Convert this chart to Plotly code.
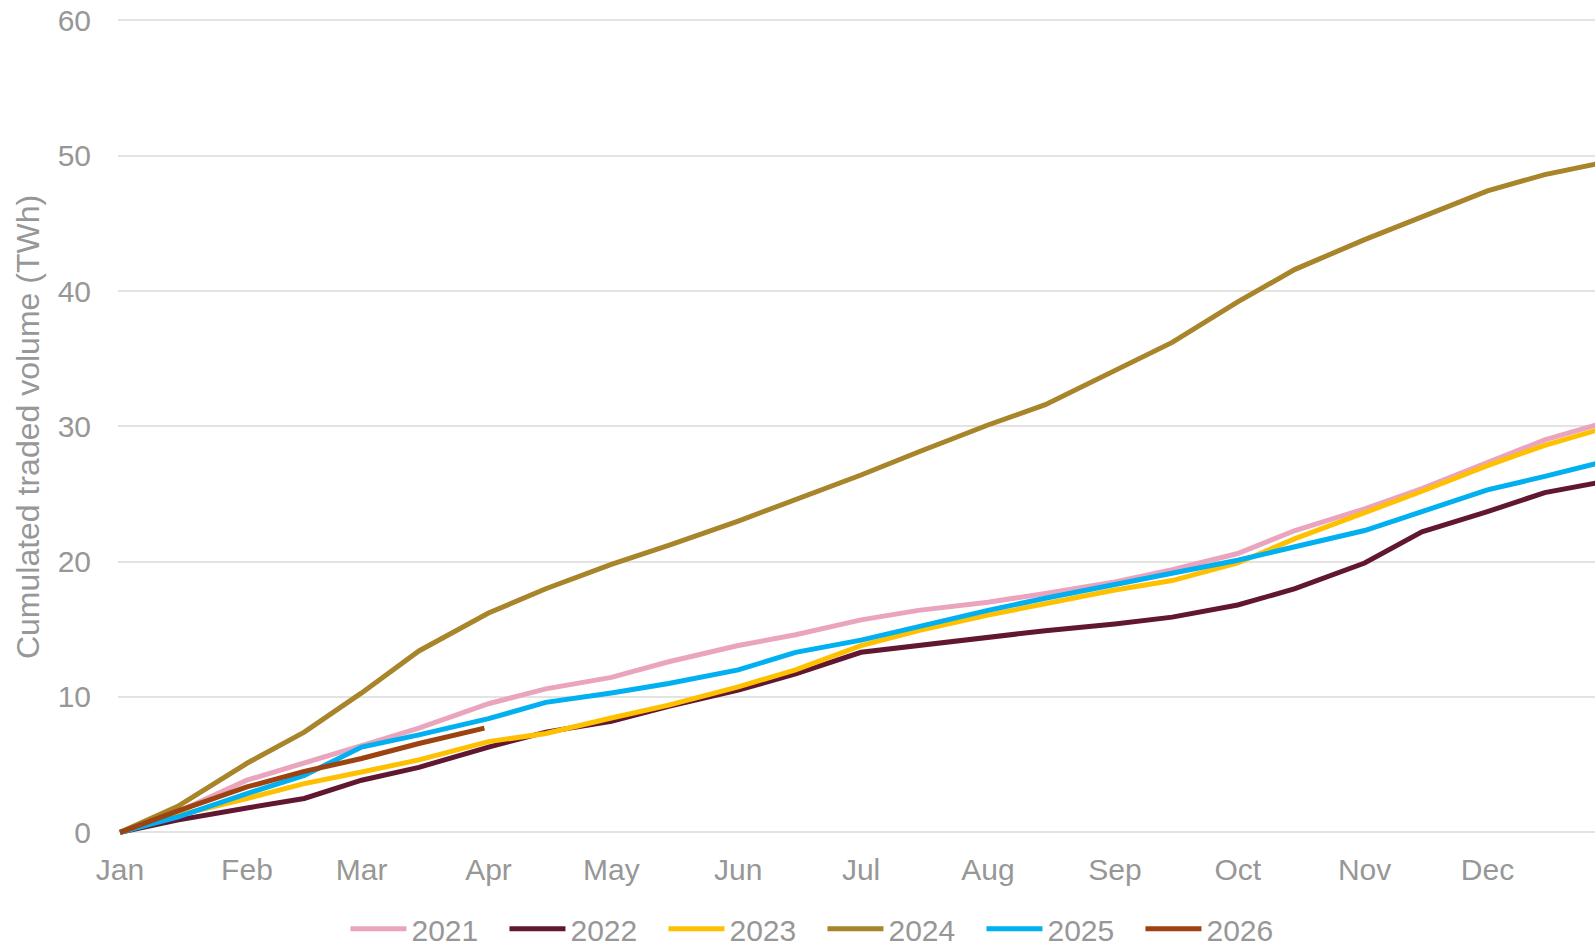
import plotly.graph_objects as go

# Day of year (plotted on a common non-leap reference year)
dates = ["2021-01-01", "2021-01-15", "2021-02-01", "2021-02-15", "2021-03-01", "2021-03-15",
         "2021-04-01", "2021-04-15", "2021-05-01", "2021-05-15", "2021-06-01", "2021-06-15",
         "2021-07-01", "2021-07-15", "2021-08-01", "2021-08-15", "2021-09-01", "2021-09-15",
         "2021-10-01", "2021-10-15", "2021-11-01", "2021-11-15", "2021-12-01", "2021-12-15",
         "2021-12-31"]
dates_2026 = ["2021-01-01", "2021-01-15", "2021-02-01", "2021-02-15", "2021-03-01", "2021-03-15",
              "2021-03-31"]

# Cumulated traded volume (TWh)
v2021 = [0, 1.5, 3.85, 5.1, 6.4, 7.7, 9.5, 10.6, 11.45, 12.6, 13.8, 14.6, 15.7, 16.4, 17.0, 17.65,
         18.5, 19.4, 20.6, 22.3, 23.9, 25.4, 27.3, 29.0, 30.4]
v2022 = [0, 0.9, 1.8, 2.5, 3.85, 4.8, 6.3, 7.4, 8.2, 9.3, 10.5, 11.7, 13.3, 13.8, 14.45, 14.9,
         15.4, 15.9, 16.8, 18.0, 19.9, 22.2, 23.7, 25.1, 26.0]
v2023 = [0, 1.25, 2.5, 3.6, 4.45, 5.35, 6.7, 7.3, 8.45, 9.4, 10.75, 12.0, 13.8, 14.9, 16.05, 16.9,
         17.9, 18.6, 19.9, 21.7, 23.6, 25.2, 27.1, 28.6, 30.0]
v2024 = [0, 1.9, 5.1, 7.4, 10.3, 13.4, 16.2, 18.0, 19.8, 21.2, 23.0, 24.6, 26.4, 28.1, 30.1, 31.6,
         34.1, 36.2, 39.2, 41.6, 43.8, 45.5, 47.4, 48.6, 49.6]
v2025 = [0, 1.13, 2.86, 4.2, 6.3, 7.2, 8.4, 9.6, 10.3, 11.0, 12.0, 13.3, 14.2, 15.2, 16.4, 17.3,
         18.3, 19.1, 20.1, 21.1, 22.3, 23.7, 25.3, 26.3, 27.5]
v2026 = [0, 1.57, 3.35, 4.5, 5.45, 6.56, 7.7]

series = [
    ("2021", dates, v2021, "#EBA4BE"),
    ("2022", dates, v2022, "#611731"),
    ("2023", dates, v2023, "#FFC000"),
    ("2024", dates, v2024, "#A8842A"),
    ("2025", dates, v2025, "#00B0F0"),
    ("2026", dates_2026, v2026, "#9C4311"),
]

y_ticks = [0, 10, 20, 30, 40, 50, 60]

GRAY = "#979797"
FONT = "Liberation Sans, Arial, sans-serif"

fig = go.Figure()
for name, x, y, color in series:
    fig.add_trace(go.Scatter(
        x=x, y=y, name=name, mode="lines",
        line=dict(color=color, width=5),
    ))

fig.update_layout(
    width=1595, height=947,
    margin=dict(l=118, r=0, t=19, b=112, autoexpand=False),
    paper_bgcolor="white", plot_bgcolor="white",
    font=dict(family=FONT, size=30, color=GRAY),
    showlegend=True,
    legend=dict(
        orientation="h", x=0.154, xanchor="left", y=-0.115, yanchor="middle",
        font=dict(family=FONT, size=30, color=GRAY),
        bgcolor="rgba(0,0,0,0)", borderwidth=0,
        itemwidth=56,
        entrywidth=88, entrywidthmode="pixels", tracegroupgap=0,
    ),
)

fig.update_xaxes(
    type="date",
    range=["2020-12-31 12:00", "2021-12-27 06:30"],
    tickformat="%b", dtick="M1", tick0="2021-01-01",
    showgrid=False, zeroline=False, showline=False, ticks="",
    tickfont=dict(family=FONT, size=30, color=GRAY),
    ticklabelstandoff=14,
)
fig.update_yaxes(
    range=[-0.2, 60.1],
    tickvals=y_ticks,
    showgrid=True, gridcolor="#E3E3E3", gridwidth=1.5,
    zeroline=False, showline=False, ticks="",
    tickfont=dict(family=FONT, size=30, color=GRAY),
    ticklabelstandoff=26,
    title=dict(text="Cumulated traded volume (TWh)", font=dict(family=FONT, size=32, color=GRAY),
               standoff=8),
)

fig.write_html("out.html")
